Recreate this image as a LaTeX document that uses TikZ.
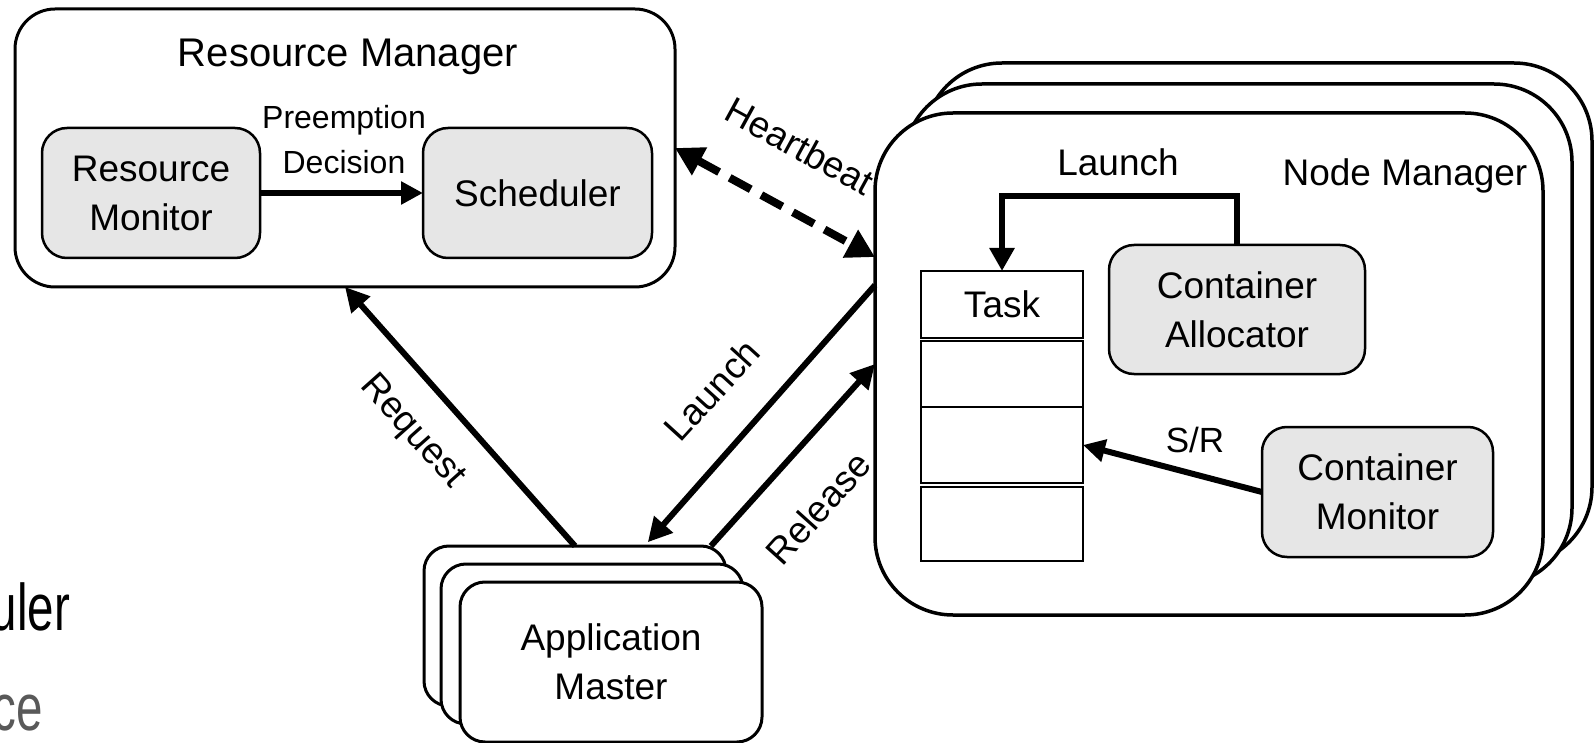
\documentclass[tikz,border=0pt]{standalone}
\usepackage{fontspec}
\setmainfont{Liberation Sans}
\newfontfamily\narrowfam[FakeStretch=0.72]{Liberation Sans}
\usetikzlibrary{arrows.meta,calc}
\definecolor{boxgray}{HTML}{E6E6E6}
\newcommand\lblfont{\fontsize{37}{49}\selectfont}
\newcommand\smallfont{\fontsize{32}{45}\selectfont}
\newcommand\bigfont{\narrowfam\fontsize{66}{66}\selectfont}
\begin{document}
\begin{tikzpicture}[x=1pt,y=-1pt,
  every node/.style={inner sep=0pt, outer sep=0pt},
  frame/.style={draw, line width=3pt, rounded corners=#1, fill=white},
  nmbox/.style={draw, line width=3.5pt, rounded corners=78pt, fill=white,
    minimum width=668pt, minimum height=502pt},
  ambox/.style={draw, line width=3pt, rounded corners=25pt, fill=white,
    minimum width=302pt, minimum height=160pt, align=center, font=\lblfont},
  graybox/.style={draw, line width=2.5pt, rounded corners=25pt, fill=boxgray,
    align=center, font=\lblfont},
  slot/.style={draw, line width=2.5pt, fill=white, minimum width=162pt},
  lbl/.style={font=\lblfont},
  arr/.style={line width=6pt, -{Triangle[length=24pt,width=24pt]}},
  hb/.style={line width=8pt, dash pattern=on 24pt off 12pt,
    {Triangle[length=28pt,width=30pt]}-{Triangle[length=28pt,width=30pt]}}
]
\useasboundingbox (0,0) rectangle (1595,743);

% slide remnants
\node[anchor=base east, font=\bigfont] (uler) at (70,630) {uler};
\node[anchor=base east, font=\bigfont, text=black!65] (ce) at (43,730) {ce};

% Resource Manager
\node[frame=40pt, minimum width=660pt, minimum height=278pt] (rm) at (345,148) {};
\node[anchor=base, font=\fontsize{40}{48}\selectfont] (rmt) at (348,67) {Resource Manager};
\node[graybox, minimum width=218pt, minimum height=130pt] (rmon) at (151,193) {Resource\\Monitor};
\node[graybox, minimum width=229pt, minimum height=130pt] (sch) at (537.5,193) {Scheduler};
\node[font=\smallfont, align=center] (pd) at (344,140) {Preemption\\Decision};
\draw[line width=6pt, -{Triangle[length=22pt,width=22pt]}] (rmon.east) -- (sch.west);

% Node Manager stack
\node[nmbox] (nmb) at (1258,314) {};
\node[nmbox] (nmm) at (1238,335) {};
\node[nmbox] (nmf) at (1209,364) {};
\node[lbl, anchor=base] (nmt) at (1405,186) {Node Manager};

% task slots
\node[slot, minimum height=67pt, font=\lblfont] (t1) at (1002,304.5) {Task};
\node[slot, minimum height=66pt] (t2) at (1002,374) {};
\node[slot, minimum height=76pt] (t3) at (1002,445) {};
\node[slot, minimum height=74pt] (t4) at (1002,524) {};

\node[graybox, minimum width=256pt, minimum height=129pt] (ca) at (1237,309.5) {Container\\Allocator};
\node[graybox, minimum width=231pt, minimum height=130pt] (cm) at (1377.5,492) {Container\\Monitor};

\draw[line width=6pt, -{Triangle[length=23pt,width=24pt]}] (ca.north) -- ++(0,-49) -| (t1.north);
\node[lbl, anchor=base] (ilaunch) at (1118,176) {Launch};

\draw[line width=6pt, -{Triangle[length=22pt,width=22pt]}] (cm.west) -- (t3.east);
\node[font=\fontsize{35}{42}\selectfont, anchor=base] (sr) at (1195,452.5) {S/R};

% Application Master stack
\node[ambox] (amB) at (575,626) {};
\node[ambox] (amM) at (592,644) {};
\node[ambox] (amF) at (611,662) {Application\\Master};

% connectors between managers
\draw[hb] (rm.east) -- ($(nmf.north west)!0.287!(nmf.south west)$);
\node[lbl, rotate=-28.6] (hbl) at (800,146) {Heartbeat};

\draw[arr] (amB.north) -- (rm.south);
\node[lbl, rotate=-48.3] (reql) at (412,432) {Request};

\draw[arr, shorten >=5pt] ($(nmf.north west)!0.343!(nmf.south west)$) -- ($(amB.north west)!0.73!(amB.north east)$);
\node[lbl, rotate=47.7] (launl) at (712,390) {Launch};

\draw[arr] ($(amB.north west)!0.95!(amB.north east)$) -- (nmf.west);
\node[lbl, rotate=48] (rell) at (818,508) {Release};
\end{tikzpicture}
\end{document}
